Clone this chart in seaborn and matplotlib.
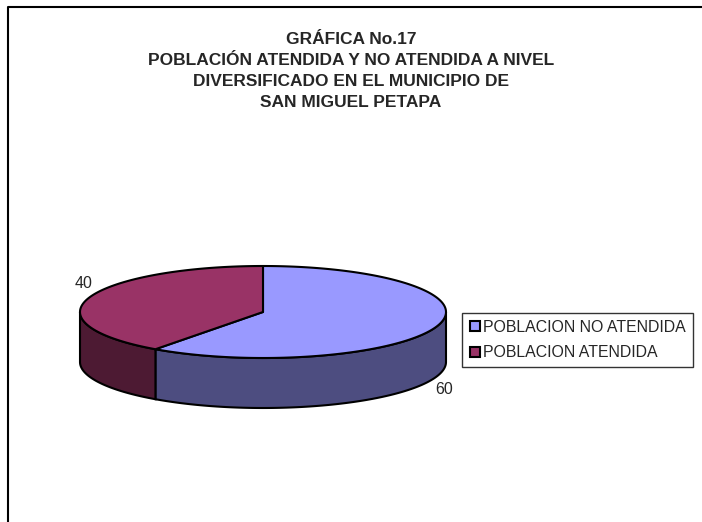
import numpy as np
import matplotlib
matplotlib.use("Agg")
import matplotlib.pyplot as plt
from matplotlib.patches import Polygon
from matplotlib.lines import Line2D
import seaborn as sns

# data
categories = ["POBLACION NO ATENDIDA", "POBLACION ATENDIDA"]
values = [60, 40]
top_colors = ["#9999FF", "#993366"]
side_colors = ["#4D4D80", "#4D1A33"]
title = ("GRÁFICA No.17\nPOBLACIÓN ATENDIDA Y NO ATENDIDA A NIVEL\n"
         "DIVERSIFICADO EN EL MUNICIPIO DE\nSAN MIGUEL PETAPA")

sns.set_style("white")
plt.rcParams['font.family'] = ['Liberation Sans', 'DejaVu Sans']

W, H = 702, 522
fig = plt.figure(figsize=(W / 100, H / 100), dpi=100)
ax = fig.add_axes([0, 0, 1, 1])
ax.set_xlim(0, W)
ax.set_ylim(H, 0)
ax.axis("off")

# outer frame (only left and top visible in the source)
ax.plot([7.5, 7.5, W + 5], [H + 5, 6.5, 6.5], color="black", lw=1.5, solid_capstyle="butt")

# pie geometry (pixel space)
cx, cy, rx, ry, depth = 263, 312, 183, 46, 50


def pt(t, dy=0.0):
    return cx + rx * np.cos(t), cy - ry * np.sin(t) + dy


# angles: start at 12 o'clock, the 40 slice goes counter-clockwise
total = float(sum(values))
spans = [v / total * 2 * np.pi for v in values]
start_red = np.pi / 2
end_red = start_red + spans[1]
slices = [(end_red, start_red + 2 * np.pi, 0), (start_red, end_red, 1)]

# side walls (front half: pi..2pi)
for a1, a2, i in slices:
    for off in (0, 2 * np.pi):
        lo = max(a1, np.pi + off)
        hi = min(a2, 2 * np.pi + off)
        if hi <= lo:
            continue
        t = np.linspace(lo, hi, 120)
        xt, yt = pt(t)
        xb, yb = pt(t[::-1], depth)
        poly = Polygon(np.column_stack([np.r_[xt, xb], np.r_[yt, yb]]),
                       closed=True, facecolor=side_colors[i], edgecolor="black", lw=1.5)
        ax.add_patch(poly)

# top faces
for a1, a2, i in slices:
    t = np.linspace(a1, a2, 200)
    xs, ys = pt(t)
    poly = Polygon(np.column_stack([np.r_[cx, xs], np.r_[cy, ys]]),
                   closed=True, facecolor=top_colors[i], edgecolor="black", lw=1.5,
                   joinstyle="round")
    ax.add_patch(poly)

# value labels
ax.text(84, 283, str(values[1]), ha="center", va="center", fontsize=11.5)
ax.text(444, 389, str(values[0]), ha="center", va="center", fontsize=11.5)

# title
ax.text(351, 71, title, ha="center", va="center", fontsize=12.5, fontweight="bold",
        linespacing=1.52)

# legend
handles = [Line2D([], [], marker="s", linestyle="none", markersize=7,
                  markerfacecolor=c, markeredgecolor="black", markeredgewidth=1.5)
           for c in top_colors]
leg = ax.legend(handles, categories, loc="center left", bbox_to_anchor=(462 / W, 1 - 340 / H),
                bbox_transform=fig.transFigure, frameon=True, fancybox=False,
                fontsize=11.4, handlelength=0.7, handletextpad=0.2, borderpad=0.45,
                labelspacing=0.65, borderaxespad=0)
leg.get_frame().set_edgecolor("black")
leg.get_frame().set_linewidth(1.0)

fig.savefig("out.png", dpi=100)
